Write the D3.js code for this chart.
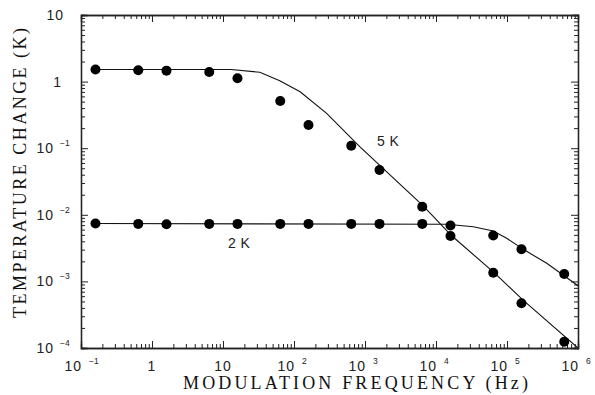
<!DOCTYPE html>
<html>
<head>
<meta charset="utf-8">
<script src="https://cdn.jsdelivr.net/npm/d3@7"></script>
<style>
  body { margin: 0; background: #fff; }
  svg { display: block; }
  .axis path, .axis line { stroke: #222; }
  .tick-label { font-family: "Liberation Sans", Arial, sans-serif; fill: #222; }
  .title { font-family: "Liberation Serif", "Times New Roman", serif; fill: #111; }
</style>
</head>
<body>
<svg id="chart" width="595" height="395"></svg>
<script>
// measured points (Hz, K)
const freq = [0.16, 0.64, 1.6, 6.4, 16, 64, 160, 640, 1600, 6400, 16000, 64000, 160000, 640000];
const temp5K = [1.52, 1.48, 1.46, 1.39, 1.12, 0.51, 0.223, 0.109, 0.047, 0.0132, 0.0048, 0.00135, 0.00047, 0.000124];
const temp2K = [0.0074, 0.0073, 0.0072, 0.0073, 0.0073, 0.0073, 0.0073, 0.0073, 0.0073, 0.0073, 0.0069, 0.0049, 0.00303, 0.00129];

// fitted curves
const curve5KFreq = [0.16, 13, 33, 63, 122, 288, 850, 6600, 16800, 67600, 170000, 1000000];
const curve5KTemp = [1.52, 1.52, 1.38, 1.03, 0.705, 0.334, 0.105, 0.0136, 0.0048, 0.00132, 0.00052, 0.0001];
const curve2KFreq = [0.16, 14200, 33500, 64100, 99000, 170000, 363000, 1000000];
const curve2KTemp = [0.0074, 0.0072, 0.00662, 0.00571, 0.00444, 0.00303, 0.00187, 0.00086];

const xDecades = [-1, 0, 1, 2, 3, 4, 5, 6];
const yDecades = [1, 0, -1, -2, -3, -4];

const xRange = [81, 578];
const yRange = [348, 15];

const x = d3.scaleLog().domain([0.1, 1e6]).range(xRange);
const y = d3.scaleLog().domain([1e-4, 10]).range(yRange);

const svg = d3.select("#chart");

function minorTicks(lo, hi) {
  const out = [];
  for (let e = lo; e < hi; e++) {
    for (let m = 2; m <= 9; m++) out.push(m * Math.pow(10, e));
  }
  return out;
}

const xMajor = xDecades.map(e => Math.pow(10, e));
const yMajor = yDecades.map(e => Math.pow(10, e));
const xMinor = minorTicks(-1, 6);
const yMinor = minorTicks(-4, 1);

function drawAxis(maker, scale, transform, values, size) {
  const g = svg.append("g")
    .attr("class", "axis")
    .attr("transform", transform)
    .call(maker(scale).tickValues(values).tickSize(size).tickFormat(""));
  g.selectAll("path").attr("stroke-width", 1.3);
  g.selectAll("line").attr("stroke-width", 1);
  return g;
}

const bottomT = `translate(0,${yRange[0]})`;
const topT = `translate(0,${yRange[1]})`;
const leftT = `translate(${xRange[0]},0)`;
const rightT = `translate(${xRange[1]},0)`;

// ticks point inward on all four sides
[[xMinor, 4], [xMajor, 7]].forEach(([vals, s]) => {
  drawAxis(d3.axisBottom, x, bottomT, vals, -s);
  drawAxis(d3.axisTop, x, topT, vals, -s);
});
[[yMinor, 4], [yMajor, 7]].forEach(([vals, s]) => {
  drawAxis(d3.axisLeft, y, leftT, vals, -s);
  drawAxis(d3.axisRight, y, rightT, vals, -s);
});

// x tick labels
xDecades.forEach(e => {
  const px = x(Math.pow(10, e));
  const base = 371;
  if (e === 0 || e === 1) {
    svg.append("text").attr("class", "tick-label")
      .attr("x", px).attr("y", base).attr("text-anchor", "middle")
      .attr("font-size", 14).attr("letter-spacing", 1)
      .text(e === 0 ? "1" : "10");
  } else {
    svg.append("text").attr("class", "tick-label")
      .attr("x", px + 1).attr("y", base).attr("text-anchor", "end")
      .attr("font-size", 14).attr("letter-spacing", 1)
      .text("10");
    svg.append("text").attr("class", "tick-label")
      .attr("x", px + 8).attr("y", base - 7).attr("text-anchor", "start")
      .attr("font-size", 8.5)
      .text(e < 0 ? "\u2212" + (-e) : String(e));
  }
});

// y tick labels
yDecades.forEach(e => {
  const py = y(Math.pow(10, e)) + 5;
  if (e === 0 || e === 1) {
    svg.append("text").attr("class", "tick-label")
      .attr("x", e === 0 ? 62 : 64).attr("y", py).attr("text-anchor", "end")
      .attr("font-size", 14).attr("letter-spacing", 1)
      .text(e === 0 ? "1" : "10");
  } else {
    svg.append("text").attr("class", "tick-label")
      .attr("x", 54).attr("y", py).attr("text-anchor", "end")
      .attr("font-size", 14).attr("letter-spacing", 1)
      .text("10");
    svg.append("text").attr("class", "tick-label")
      .attr("x", 60).attr("y", py - 7).attr("text-anchor", "start")
      .attr("font-size", 8.5)
      .text("\u2212" + (-e));
  }
});

// axis titles
svg.append("text").attr("class", "title")
  .attr("x", 183).attr("y", 389)
  .attr("font-size", 18)
  .attr("textLength", 345).attr("lengthAdjust", "spacing")
  .text("MODULATION FREQUENCY (Hz)");

svg.append("text").attr("class", "title")
  .attr("transform", "translate(26,318) rotate(-90)")
  .attr("font-size", 18)
  .attr("textLength", 290).attr("lengthAdjust", "spacing")
  .text("TEMPERATURE CHANGE (K)");

// curves
const line = d3.line().x(d => x(d[0])).y(d => y(d[1]));
const plot = svg.append("g");

plot.append("clipPath").attr("id", "clip")
  .append("rect")
  .attr("x", xRange[0]).attr("y", yRange[1])
  .attr("width", xRange[1] - xRange[0]).attr("height", yRange[0] - yRange[1]);

[[curve5KFreq, curve5KTemp], [curve2KFreq, curve2KTemp]].forEach(([fs, ts]) => {
  plot.append("path")
    .datum(fs.map((f, i) => [f, ts[i]]))
    .attr("clip-path", "url(#clip)")
    .attr("fill", "none")
    .attr("stroke", "#111")
    .attr("stroke-width", 1.1)
    .attr("d", line);
});

[temp5K, temp2K].forEach(ts => {
  plot.selectAll(null)
    .data(freq.map((f, i) => [f, ts[i]]))
    .join("circle")
    .attr("cx", d => x(d[0]))
    .attr("cy", d => y(d[1]))
    .attr("r", 5)
    .attr("fill", "#000");
});

// curve labels
svg.append("text").attr("class", "tick-label")
  .attr("x", 377).attr("y", 146).attr("font-size", 14)
  .attr("letter-spacing", 1)
  .text("5\u2009K");
svg.append("text").attr("class", "tick-label")
  .attr("x", 228).attr("y", 248).attr("font-size", 14)
  .attr("letter-spacing", 1)
  .text("2\u2009K");
</script>
</body>
</html>
